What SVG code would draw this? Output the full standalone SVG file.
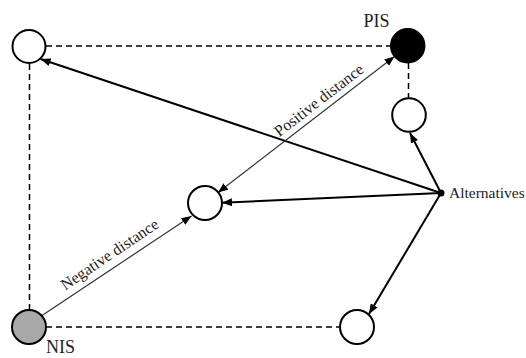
<svg xmlns="http://www.w3.org/2000/svg" width="526" height="358" viewBox="0 0 526 358">
<defs>
<marker id="ah" markerUnits="userSpaceOnUse" markerWidth="10" markerHeight="8" refX="10" refY="4" orient="auto-start-reverse" viewBox="0 0 10 8">
<path d="M0,0 L10,4 L0,8 z" fill="#000"/>
</marker>
<style>
.node{fill:#fff;stroke:#000;stroke-width:2}
.dash{stroke:#000;stroke-width:1.5;stroke-dasharray:6 4;fill:none}
.alt{stroke:#000;stroke-width:2;fill:none;marker-end:url(#ah)}
.dist{stroke:#333;stroke-width:1.2;fill:none}
.lbl{font-family:"Liberation Serif","Times New Roman",serif;fill:#222}
</style>
</defs>
<rect width="526" height="358" fill="#fff"/>
<g id="connectors">
<line class="dash" x1="46" y1="46" x2="390" y2="46"/>
<line class="dash" x1="29.5" y1="64" x2="29.5" y2="310"/>
<line class="dash" x1="46" y1="327" x2="340" y2="327"/>
<line class="dash" x1="408.5" y1="63" x2="408.5" y2="98"/>
<line class="alt" x1="441" y1="193" x2="40.5" y2="59"/>
<line class="alt" x1="441" y1="193" x2="410" y2="133"/>
<line class="alt" x1="441" y1="193" x2="222" y2="202.7"/>
<line class="alt" x1="441" y1="193" x2="369" y2="314"/>
<line class="dist" x1="218" y1="192.5" x2="394.5" y2="56.5" marker-start="url(#ah)" marker-end="url(#ah)"/>
<line class="dist" x1="42" y1="315.5" x2="191.5" y2="216" marker-end="url(#ah)"/>
<text class="lbl" font-size="16" transform="translate(283,142) rotate(-37.6)" x="0" y="-6">Positive distance</text>
<text class="lbl" font-size="16" transform="translate(69.6,297.3) rotate(-34)" x="0" y="-8">Negative distance</text>
</g>
<g id="n-topleft"><circle class="node" cx="29" cy="46.5" r="16.5"/></g>
<g id="n-pis"><circle cx="407.7" cy="45.8" r="17" fill="#000" stroke="#000" stroke-width="1.5"/><text class="lbl" font-size="18" x="376.5" y="27" text-anchor="middle">PIS</text></g>
<g id="n-upper-right"><circle class="node" cx="409" cy="115" r="16.8"/></g>
<g id="n-middle"><circle class="node" cx="205" cy="203" r="17"/></g>
<g id="n-nis"><circle cx="29" cy="327" r="17" fill="#a8a8a8" stroke="#000" stroke-width="2"/><text class="lbl" font-size="18" x="46" y="353">NIS</text></g>
<g id="n-bottom-right"><circle class="node" cx="357" cy="327" r="17"/></g>
<g id="n-alternatives"><circle cx="441" cy="193" r="3.5" fill="#000"/><text class="lbl" font-size="15.5" x="449" y="198">Alternatives</text></g>
</svg>
